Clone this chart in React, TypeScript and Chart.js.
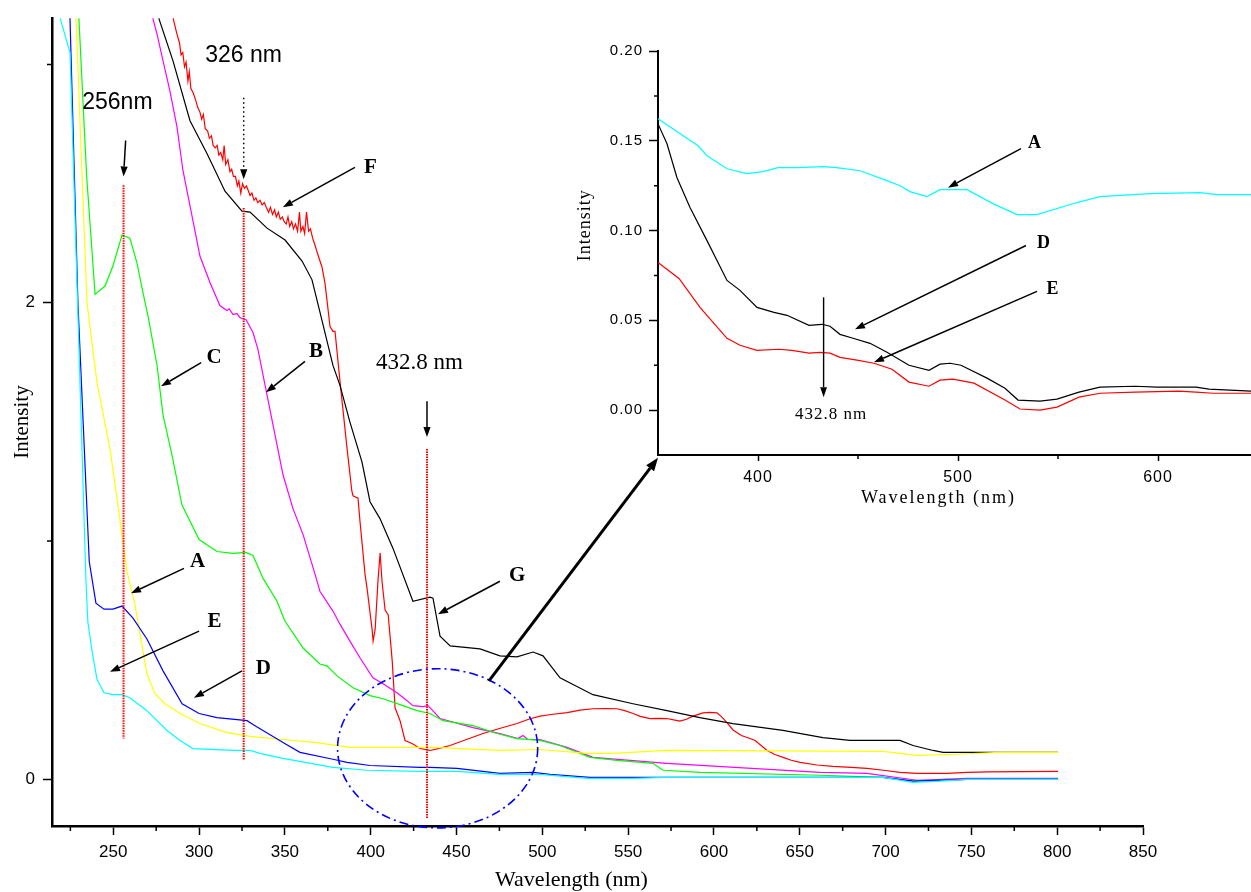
import { useEffect, useRef } from 'react';
import { Chart, registerables } from 'chart.js';

Chart.register(...registerables);

type Pt = [number, number];

// ---- main spectra: [wavelength nm, intensity] ----
const cyanTrace: Pt[] = [
  [216.5, 3.26], [219.2, 3.19], [224.8, 3.05], [234.1, 0.83], [235.2, 0.66], [237.6, 0.54], [240.5, 0.42],
  [244.6, 0.363], [249.8, 0.355], [255.1, 0.355], [259.7, 0.342], [269.6, 0.288], [281.3, 0.205],
  [288.9, 0.163], [296.4, 0.129], [319.8, 0.121], [329.7, 0.121], [335.5, 0.109], [348.9, 0.088],
  [378.0, 0.05], [397.8, 0.038], [428.7, 0.033], [450.3, 0.033], [475.3, 0.021], [498.6, 0.021],
  [526, 0.004], [552.8, 0.004], [572.6, 0.008], [650, 0.008], [698.5, 0.008], [716, -0.013],
  [731.7, -0.008], [747.4, 0], [800.5, 0],
];

const blueTrace: Pt[] = [
  [223.5, 3.3], [224.8, 3.19], [229.4, 2.0], [236.0, 0.914], [239.9, 0.739], [244.6, 0.714],
  [249.8, 0.714], [255.1, 0.727], [261.5, 0.676], [269.6, 0.589], [279, 0.455], [290.1, 0.317],
  [300, 0.276], [310.4, 0.259], [328, 0.246], [331.4, 0.23], [348.9, 0.154], [358.8, 0.113],
  [378, 0.084], [386.2, 0.071], [399.6, 0.058], [428.7, 0.05], [434.5, 0.05], [450.3, 0.046],
  [475.3, 0.025], [494.7, 0.029], [504.5, 0.021], [527.8, 0.008], [552.8, 0.008], [650, 0.008],
  [698.5, 0.008], [716, -0.008], [747.4, 0], [800.5, 0],
];

const yellowTrace: Pt[] = [
  [227, 3.3], [228.3, 3.19], [234.7, 2.0], [240.5, 1.666], [248.1, 1.386], [252.2, 1.177], [258, 0.873],
  [262.6, 0.735], [265.6, 0.61], [269.6, 0.443], [274.3, 0.359], [280.1, 0.317], [288.9, 0.276],
  [300.5, 0.234], [316.3, 0.196], [329.7, 0.18], [348.9, 0.167], [368.7, 0.154], [387.9, 0.134],
  [407.2, 0.134], [436.3, 0.134], [475.3, 0.121], [498.6, 0.125], [526, 0.109], [541.2, 0.109],
  [572.6, 0.121], [698.5, 0.117], [718.3, 0.1], [737.5, 0.104], [766.7, 0.113], [800.5, 0.113],
];

const greenTrace: Pt[] = [
  [228.5, 3.3], [230, 3.19], [234.5, 2.53], [239.4, 2.035], [245.2, 2.07], [249.8, 2.154],
  [255.1, 2.284], [259.7, 2.271], [263.8, 2.167], [267.3, 2.042], [270.2, 1.946], [275.5, 1.737],
  [279, 1.528], [284.2, 1.361], [290, 1.152], [300, 1.006], [310.4, 0.956], [319.8, 0.948],
  [327.3, 0.952], [331.4, 0.939], [337.3, 0.843], [345.4, 0.747], [350, 0.664], [360.6, 0.551],
  [370.4, 0.484], [374.5, 0.476], [380.4, 0.434], [389.7, 0.384], [399.6, 0.351], [407.2, 0.338],
  [418.8, 0.309], [427, 0.288], [434.5, 0.276], [442.2, 0.246], [459.6, 0.225], [473.6, 0.192],
  [485.3, 0.171], [498.6, 0.163], [510.3, 0.142], [527.8, 0.092], [543.5, 0.079], [564.5, 0.067],
  [570.3, 0.038], [591.9, 0.029], [662, 0.017], [698.5, 0.008], [716, -0.008], [747.4, 0], [800.5, 0],
];

const magentaTrace: Pt[] = [
  [272.5, 3.3], [273.2, 3.19], [275.5, 3.127], [279, 3.015], [283, 2.889], [287.1, 2.739], [290.6, 2.555],
  [295.9, 2.363], [300.5, 2.196], [306.4, 2.084], [312.2, 1.987], [316.3, 1.967], [317.5, 1.975],
  [319.8, 1.95], [322, 1.955], [323.9, 1.937], [327.4, 1.929], [331.4, 1.875], [334.3, 1.804],
  [337.3, 1.695], [343.1, 1.486], [348.9, 1.278], [354.7, 1.136], [360.6, 1.027], [367.6, 0.86],
  [370.4, 0.789], [378, 0.706], [382.1, 0.651], [387.9, 0.58], [393.8, 0.509], [401.3, 0.426],
  [407.2, 0.401], [415.3, 0.363], [421.2, 0.33], [424.6, 0.309], [430.5, 0.305], [433.4, 0.309],
  [440.4, 0.255], [459.6, 0.217], [475.3, 0.192], [485.8, 0.171], [488.7, 0.184], [491.6, 0.167],
  [498.6, 0.167], [514.4, 0.134], [529.5, 0.092], [572.6, 0.067], [661.7, 0.029], [689.1, 0.025],
  [718.3, -0.004], [747.4, 0.004], [800.5, 0.004],
];

const blackTrace: Pt[] = [
  [275.5, 3.3], [276.7, 3.19], [284.8, 3.015], [294.7, 2.764], [304.6, 2.626], [315.1, 2.468],
  [325, 2.384], [329.7, 2.38], [339.6, 2.313], [350.1, 2.263], [360, 2.175], [365.8, 2.096],
  [370.5, 1.958], [378, 1.737], [382.1, 1.653], [387.9, 1.499], [394.9, 1.332], [399.6, 1.165],
  [405.4, 1.094], [413, 0.969], [424.6, 0.747], [434.5, 0.764], [436.3, 0.76], [440.4, 0.601],
  [446.3, 0.56], [463.7, 0.547], [475.3, 0.518], [485.2, 0.514], [494.6, 0.534], [500.4, 0.518],
  [510.3, 0.426], [529.5, 0.355], [552.8, 0.317], [572.6, 0.288], [591.8, 0.259], [611.1, 0.234],
  [640.2, 0.205], [663.5, 0.175], [679.3, 0.163], [708.4, 0.163], [716, 0.142], [727.7, 0.121],
  [733.5, 0.113], [800.5, 0.113],
];

const redTrace: Pt[] = [
  [284, 3.25], [285, 3.19], [287, 3.13], [288.6, 3.09], [289.5, 3.04], [290.5, 3.05], [291.5, 2.99],
  [292.4, 3.01], [293.5, 2.93], [294.3, 2.97], [295.2, 2.9], [296.6, 2.88], [298, 2.85], [299.2, 2.82],
  [300.5, 2.8], [301.5, 2.77], [302.5, 2.79], [303.6, 2.73], [305, 2.72], [306, 2.69], [307.2, 2.7],
  [308.2, 2.66], [309.4, 2.65], [310.5, 2.66], [311.5, 2.62], [312.6, 2.63], [313.8, 2.6], [314.6, 2.66],
  [315.5, 2.58], [316.8, 2.6], [318, 2.55], [319, 2.56], [320, 2.53], [321.2, 2.53], [322.3, 2.49],
  [323.2, 2.51], [324.3, 2.46], [325.3, 2.5], [326.4, 2.48], [327.6, 2.49], [328.7, 2.47], [329.7, 2.45],
  [330.8, 2.46], [332, 2.43], [333.1, 2.44], [334.2, 2.42], [335.5, 2.43], [336.7, 2.41], [338, 2.42],
  [339.2, 2.4], [340.5, 2.38], [341.6, 2.4], [342.8, 2.37], [344, 2.39], [345, 2.36], [346.2, 2.38],
  [347.3, 2.35], [348.5, 2.36], [349.6, 2.34], [350.8, 2.33], [351.8, 2.36], [352.8, 2.32], [354, 2.34],
  [355, 2.31], [356.2, 2.33], [357.4, 2.3], [358.5, 2.38], [359.3, 2.3], [360.5, 2.32], [361.5, 2.29],
  [362.6, 2.38], [363.8, 2.3], [364.9, 2.31], [366.2, 2.27], [367.6, 2.24], [369.3, 2.2], [371.6, 2.15],
  [373.4, 2.08], [376.3, 1.9], [378, 1.88], [379.2, 1.88], [382.1, 1.67], [386.2, 1.39], [389, 1.21],
  [389.7, 1.19], [392.6, 1.18], [393.8, 1.08], [396.7, 0.86], [397.9, 0.8], [400.8, 0.63], [401.4, 0.58],
  [402.6, 0.63], [404.3, 0.84], [405.5, 0.95], [406.6, 0.83], [408.4, 0.71], [410.2, 0.69], [412.5, 0.5],
  [414.2, 0.3], [417.1, 0.246], [420, 0.163], [424.1, 0.15], [428.7, 0.129], [434.5, 0.121],
  [440, 0.13], [446.2, 0.142], [455, 0.165], [465.5, 0.192], [475, 0.213], [485.3, 0.234], [492, 0.252],
  [498.7, 0.265], [505, 0.272], [514.4, 0.28], [522, 0.29], [529.6, 0.296], [537, 0.297], [543.5, 0.296],
  [548, 0.288], [552.9, 0.276], [557, 0.264], [562.8, 0.255], [567.5, 0.256], [572.6, 0.255],
  [576.5, 0.249], [580.2, 0.244], [584, 0.252], [587.8, 0.265], [593.6, 0.279], [597.5, 0.281],
  [601.8, 0.279], [604.5, 0.262], [607.6, 0.238], [611.1, 0.207], [616, 0.184], [621, 0.171],
  [624, 0.163], [627.5, 0.142], [631, 0.121], [635.5, 0.104], [640.3, 0.092], [645, 0.08],
  [650.2, 0.071], [660, 0.06], [669.4, 0.054], [680, 0.05], [689.2, 0.046], [700, 0.037],
  [708.4, 0.029], [718.3, 0.025], [735.8, 0.025], [747.4, 0.029], [760, 0.031], [800.5, 0.033],
];

// ---- enlarged 350-650 nm window ----
const insetA: Pt[] = [
  [350, 0.1622], [370, 0.1472], [374.5, 0.1417], [384.5, 0.1344], [394.5, 0.1317], [402.5, 0.1328],
  [410, 0.135], [419.5, 0.135], [432.5, 0.1356], [439.5, 0.135], [451, 0.1333], [464.5, 0.1278],
  [471, 0.125], [476, 0.1217], [484.5, 0.1189], [491, 0.1228], [504.5, 0.1228], [517.5, 0.115],
  [529.5, 0.1089], [539.5, 0.1089], [559.5, 0.1156], [571, 0.1189], [596, 0.1206], [621, 0.1211],
  [629.5, 0.12], [647, 0.12],
];
const insetD: Pt[] = [
  [350, 0.1594], [354.5, 0.1483], [359.5, 0.1294], [366, 0.1128], [374.5, 0.0944], [384.5, 0.0722],
  [391, 0.0667], [399.5, 0.0572], [408, 0.0544], [414.5, 0.0528], [425.5, 0.0472], [432, 0.0478],
  [436, 0.0467], [441, 0.0422], [447.5, 0.04], [456, 0.0372], [464.5, 0.0322], [475.5, 0.025],
  [485.5, 0.0222], [491, 0.0256], [496, 0.0261], [501.5, 0.025], [514.5, 0.0178], [523.5, 0.0122],
  [530, 0.0056], [541, 0.005], [549.5, 0.0061], [560.5, 0.01], [571, 0.0128], [588.5, 0.0133],
  [599.5, 0.0128], [619, 0.0128], [625.5, 0.0117], [647, 0.0106],
];
const insetE: Pt[] = [
  [350, 0.0822], [360.5, 0.0733], [371, 0.0572], [384.5, 0.04], [391, 0.0361], [399.5, 0.0333],
  [410.5, 0.0339], [417, 0.0333], [425.5, 0.0317], [431, 0.0322], [436, 0.0317], [441, 0.0294],
  [449.5, 0.0278], [458, 0.0261], [467, 0.0228], [475.5, 0.0156], [485.5, 0.0133], [491, 0.0167],
  [497.5, 0.0172], [508, 0.015], [523.5, 0.0056], [531, 0.0006], [541, 0], [549.5, 0.0017],
  [560.5, 0.0072], [571, 0.0094], [588.5, 0.01], [610.5, 0.0106], [619, 0.01], [627.5, 0.0094],
  [647, 0.0094],
];

// ---- axes ----
const mainXTicks = [250, 300, 350, 400, 450, 500, 550, 600, 650, 700, 750, 800, 850];
const mainXMinor = [225, 275, 325, 375, 425, 475, 525, 575, 625, 675, 725, 775, 825];
const mainYTicks = [0, 2];
const mainYMinor = [1, 3];
const insetXTicks = [400, 500, 600];
const insetXMinor = [450, 550];
const insetYTicks = [0, 0.05, 0.1, 0.15, 0.2];
const insetYMinor = [0.025, 0.075, 0.125, 0.175];

// ---- annotations (data coordinates) ----
const peakMarkers = [
  { nm: 256, top: 2.493, bottom: 0.171 },
  { nm: 326, top: 2.397, bottom: 0.0835 },
  { nm: 432.8, top: 1.386, bottom: -0.163 },
];
const peakCaptions = [
  { text: '256nm', nm: 252.4, v: 2.841, serif: false },
  { text: '326 nm', nm: 325.9, v: 3.035, serif: false },
  { text: '432.8 nm', nm: 428.4, v: 1.749, serif: true },
];
const peakPointers = [
  { from: [257.2, 2.681], to: [256, 2.53], dotted: false },
  { from: [326, 2.86], to: [326, 2.518], dotted: true },
  { from: [432.8, 1.587], to: [432.8, 1.436], dotted: false },
];
const traceLetters = [
  { text: 'F', at: [399.9, 2.568], from: [390.8, 2.568], to: [348.8, 2.401] },
  { text: 'C', at: [308.7, 1.768], from: [301.2, 1.749], to: [277.8, 1.649] },
  { text: 'B', at: [368.1, 1.795], from: [361.7, 1.754], to: [339, 1.624] },
  { text: 'A', at: [299.1, 0.914], from: [291.2, 0.885], to: [260.3, 0.781] },
  { text: 'E', at: [309.0, 0.66], from: [300.0, 0.622], to: [248.1, 0.451] },
  { text: 'D', at: [337.5, 0.466], from: [325, 0.455], to: [297, 0.342] },
  { text: 'G', at: [485.3, 0.854], from: [475.3, 0.831], to: [439.2, 0.693] },
];
const zoomRegion = { nm: 439, v: 0.13, rNm: 58.3, rV: 0.334 };
const zoomPointer = { from: [468.9, 0.413], to: [567.4, 1.349] };

const insetLetters = [
  { text: 'A', at: [538.3, 0.1483], from: [531.5, 0.1456], to: [495, 0.1239] },
  { text: 'D', at: [542.8, 0.0928], from: [534, 0.0917], to: [448.5, 0.045] },
  { text: 'E', at: [547.3, 0.0675], from: [539.5, 0.0661], to: [458, 0.0267] },
];
const insetMarker = { text: '432.8 nm', nm: 432.8, top: 0.0628, tip: 0.0072, labelNm: 436.5, labelV: -0.0022 };

const SANS = '"Liberation Sans", Arial, Helvetica, sans-serif';
const SERIF = '"Liberation Serif", "Times New Roman", Times, serif';

const toXY = (pts: Pt[]) => pts.map(([x, y]) => ({ x, y }));

function drawArrow(
  ctx: CanvasRenderingContext2D,
  x1: number, y1: number, x2: number, y2: number,
  width = 1.4, head = 10, half = 3.6, dash: number[] = [],
) {
  const ang = Math.atan2(y2 - y1, x2 - x1);
  const bx = x2 - head * Math.cos(ang);
  const by = y2 - head * Math.sin(ang);
  ctx.save();
  ctx.strokeStyle = '#000';
  ctx.fillStyle = '#000';
  ctx.lineWidth = width;
  ctx.setLineDash(dash);
  ctx.beginPath();
  ctx.moveTo(x1, y1);
  ctx.lineTo(bx, by);
  ctx.stroke();
  ctx.setLineDash([]);
  ctx.beginPath();
  ctx.moveTo(x2, y2);
  ctx.lineTo(bx + half * Math.sin(ang), by - half * Math.cos(ang));
  ctx.lineTo(bx - half * Math.sin(ang), by + half * Math.cos(ang));
  ctx.closePath();
  ctx.fill();
  ctx.restore();
}

const mainDecor = {
  id: 'mainDecor',
  afterDraw(chart: any) {
    const { ctx, chartArea: a } = chart;
    const X = (v: number) => chart.scales.x.getPixelForValue(v);
    const Y = (v: number) => chart.scales.y.getPixelForValue(v);
    ctx.save();

    // minor ticks
    ctx.strokeStyle = '#000';
    ctx.lineWidth = 1.5;
    ctx.beginPath();
    mainXMinor.forEach((v) => { ctx.moveTo(X(v), a.bottom); ctx.lineTo(X(v), a.bottom + 5); });
    mainYMinor.forEach((v) => { ctx.moveTo(a.left - 5, Y(v)); ctx.lineTo(a.left, Y(v)); });
    ctx.stroke();

    // axis titles
    ctx.fillStyle = '#000';
    ctx.textAlign = 'center';
    ctx.textBaseline = 'middle';
    ctx.font = `21px ${SERIF}`;
    ctx.save();
    ctx.translate(a.left - 29.5, (a.top + a.bottom) / 2);
    ctx.rotate(-Math.PI / 2);
    ctx.fillText('Intensity', 0, 0);
    ctx.restore();
    ctx.font = `22px ${SERIF}`;
    ctx.fillText('Wavelength (nm)', X(517), a.bottom + 54);

    // peak marker lines
    ctx.strokeStyle = '#ff0000';
    ctx.lineWidth = 2;
    ctx.setLineDash([1.5, 1]);
    peakMarkers.forEach((m) => {
      ctx.beginPath();
      ctx.moveTo(X(m.nm), Y(m.top));
      ctx.lineTo(X(m.nm), Y(m.bottom));
      ctx.stroke();
    });
    ctx.setLineDash([]);

    // enlarged region outline
    ctx.strokeStyle = '#0000ff';
    ctx.lineWidth = 1.6;
    ctx.setLineDash([9, 4, 2, 4]);
    ctx.beginPath();
    ctx.ellipse(
      X(zoomRegion.nm), Y(zoomRegion.v),
      Math.abs(X(zoomRegion.nm + zoomRegion.rNm) - X(zoomRegion.nm)),
      Math.abs(Y(zoomRegion.v + zoomRegion.rV) - Y(zoomRegion.v)),
      0, 0, Math.PI * 2,
    );
    ctx.stroke();
    ctx.setLineDash([]);

    // captions
    ctx.fillStyle = '#000';
    peakCaptions.forEach((c) => {
      ctx.font = c.serif ? `23px ${SERIF}` : `23px ${SANS}`;
      ctx.fillText(c.text, X(c.nm), Y(c.v));
    });
    peakPointers.forEach((p) => {
      drawArrow(ctx, X(p.from[0]), Y(p.from[1]), X(p.to[0]), Y(p.to[1]), 1.5, 10, 3.6, p.dotted ? [1.5, 3] : []);
    });

    ctx.font = `bold 21px ${SERIF}`;
    traceLetters.forEach((l) => {
      ctx.fillText(l.text, X(l.at[0]), Y(l.at[1]));
      drawArrow(ctx, X(l.from[0]), Y(l.from[1]), X(l.to[0]), Y(l.to[1]), 1.5, 10, 3.6);
    });

    drawArrow(ctx, X(zoomPointer.from[0]), Y(zoomPointer.from[1]), X(zoomPointer.to[0]), Y(zoomPointer.to[1]), 3, 13, 5);
    ctx.restore();
  },
};

const insetDecor = {
  id: 'insetDecor',
  beforeDraw(chart: any) {
    chart.ctx.letterSpacing = '1px';
  },
  afterDraw(chart: any) {
    const { ctx, chartArea: a } = chart;
    const X = (v: number) => chart.scales.x.getPixelForValue(v);
    const Y = (v: number) => chart.scales.y.getPixelForValue(v);
    ctx.save();
    ctx.strokeStyle = '#000';
    ctx.lineWidth = 1.5;
    ctx.beginPath();
    insetXMinor.forEach((v) => { ctx.moveTo(X(v), a.bottom); ctx.lineTo(X(v), a.bottom + 4); });
    insetYMinor.forEach((v) => { ctx.moveTo(a.left - 4, Y(v)); ctx.lineTo(a.left, Y(v)); });
    ctx.stroke();

    ctx.fillStyle = '#000';
    ctx.textAlign = 'center';
    ctx.textBaseline = 'middle';
    ctx.letterSpacing = '1px';
    ctx.font = `18px ${SERIF}`;
    ctx.save();
    ctx.translate(a.left - 73, Y(0.103));
    ctx.rotate(-Math.PI / 2);
    ctx.fillText('Intensity', 0, 0);
    ctx.restore();
    ctx.letterSpacing = '2px';
    ctx.fillText('Wavelength (nm)', X(490.25), a.bottom + 43.5);

    ctx.letterSpacing = '1px';
    ctx.font = `17px ${SERIF}`;
    ctx.fillText(insetMarker.text, X(insetMarker.labelNm), Y(insetMarker.labelV));
    drawArrow(ctx, X(insetMarker.nm), Y(insetMarker.top), X(insetMarker.nm), Y(insetMarker.tip), 1.4, 10, 3.4);

    ctx.letterSpacing = '0px';
    ctx.font = `bold 18px ${SERIF}`;
    insetLetters.forEach((l) => {
      ctx.fillText(l.text, X(l.at[0]), Y(l.at[1]));
      drawArrow(ctx, X(l.from[0]), Y(l.from[1]), X(l.to[0]), Y(l.to[1]), 1.5, 10, 3.6);
    });
    ctx.restore();
  },
};

const lineSet = (pts: Pt[], color: string) => ({
  data: toXY(pts),
  borderColor: color,
  borderWidth: 1.2,
  pointRadius: 0,
  tension: 0,
  fill: false,
});

const axisLook = (tickLength: number, borderWidth: number) => ({
  grid: { drawOnChartArea: false, drawTicks: true, tickLength, tickColor: '#000', tickWidth: 1.5 },
  border: { display: true, color: '#000', width: borderWidth },
});

export default function App() {
  const mainRef = useRef<HTMLCanvasElement>(null);
  const insetRef = useRef<HTMLCanvasElement>(null);

  useEffect(() => {
    const main = new Chart(mainRef.current as HTMLCanvasElement, {
      type: 'line',
      data: {
        datasets: [
          lineSet(cyanTrace, '#00ffff'),
          lineSet(blueTrace, '#0000ff'),
          lineSet(yellowTrace, '#ffff00'),
          lineSet(greenTrace, '#00ff00'),
          lineSet(magentaTrace, '#ff00ff'),
          lineSet(blackTrace, '#000000'),
          lineSet(redTrace, '#ff0000'),
        ],
      },
      options: {
        responsive: false,
        animation: false,
        devicePixelRatio: 1,
        events: [],
        layout: { padding: { top: 14, right: 108, bottom: 0, left: 0 } },
        plugins: { legend: { display: false }, tooltip: { enabled: false } },
        scales: {
          x: {
            type: 'linear',
            min: 214.3,
            max: 850,
            afterBuildTicks: (s: any) => { s.ticks = mainXTicks.map((value) => ({ value })); },
            afterFit: (s: any) => { s.height = 66; },
            ticks: { autoSkip: false, maxRotation: 0, padding: 7, color: '#000', font: { family: SANS, size: 17 }, callback: (v: any) => String(v) },
            ...axisLook(9, 2.5),
          },
          y: {
            type: 'linear',
            min: -0.196,
            max: 3.194,
            afterBuildTicks: (s: any) => { s.ticks = mainYTicks.map((value) => ({ value })); },
            afterFit: (s: any) => { s.width = 52; },
            ticks: { padding: 8, color: '#000', font: { family: SANS, size: 17 }, callback: (v: any) => String(v) },
            ...axisLook(9, 2.5),
          },
        },
      },
      plugins: [mainDecor],
    } as any);

    const inset = new Chart(insetRef.current as HTMLCanvasElement, {
      type: 'line',
      data: {
        datasets: [
          lineSet(insetA, '#00ffff'),
          lineSet(insetD, '#000000'),
          lineSet(insetE, '#ff0000'),
        ],
      },
      options: {
        responsive: false,
        animation: false,
        devicePixelRatio: 1,
        events: [],
        layout: { padding: { top: 31, right: 0, bottom: 0, left: 0 } },
        plugins: { legend: { display: false }, tooltip: { enabled: false } },
        scales: {
          x: {
            type: 'linear',
            min: 350,
            max: 646.5,
            afterBuildTicks: (s: any) => { s.ticks = insetXTicks.map((value) => ({ value })); },
            afterFit: (s: any) => { s.height = 65; },
            ticks: { autoSkip: false, maxRotation: 0, padding: 7, color: '#000', font: { family: SANS, size: 16 }, callback: (v: any) => String(v) },
            ...axisLook(6, 2),
          },
          y: {
            type: 'linear',
            min: -0.025,
            max: 0.2,
            afterBuildTicks: (s: any) => { s.ticks = insetYTicks.map((value) => ({ value })); },
            afterFit: (s: any) => { s.width = 98; },
            ticks: { padding: 6, color: '#000', font: { family: SANS, size: 15 }, callback: (v: any) => Number(v).toFixed(2) },
            ...axisLook(9, 2),
          },
        },
      },
      plugins: [insetDecor],
    } as any);

    return () => {
      main.destroy();
      inset.destroy();
    };
  }, []);

  return (
    <div style={{ position: 'fixed', left: 0, top: 0, width: 1251, height: 892, background: '#fff' }}>
      <canvas ref={mainRef} width={1251} height={892} style={{ position: 'absolute', left: 0, top: 0 }} />
      <canvas ref={insetRef} width={691} height={500} style={{ position: 'absolute', left: 560, top: 20 }} />
    </div>
  );
}
